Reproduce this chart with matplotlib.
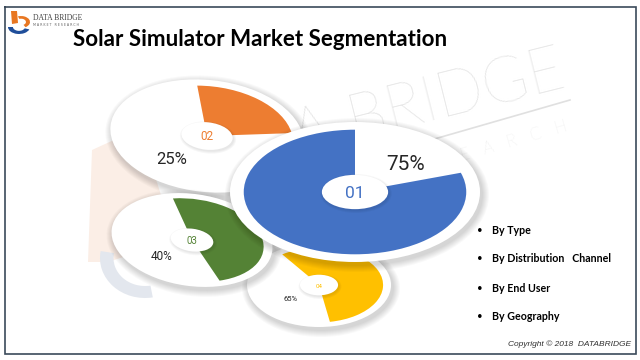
import numpy as np
import matplotlib
matplotlib.use("Agg")
import matplotlib.pyplot as plt
from matplotlib.patches import Circle, Wedge, Polygon
from matplotlib.transforms import Affine2D

# ---- data ----
seg_ids = ["01", "02", "03", "04"]
seg_pct = [75, 25, 40, 65]
arc_share = [0.80, 0.24, 0.48, 0.57]   # coloured sweep as drawn on each disk
seg_colors = ["#4472C4", "#ED7D31", "#548235", "#FFC000"]
legend_items = ["By Type", "By Distribution   Channel", "By End User", "By Geography"]
title = "Solar Simulator Market Segmentation"

# ---- layout of the disks (pixels): cx, cy, a, b, rot, start angle, clockwise ----
disks = {
    "01": dict(cx=355, cy=192, a=125, b=70, rot=0, start=90, cw=False,
               lab=(406, 164), fs_lab=15, fs_id=12.5),
    "02": dict(cx=207, cy=136, a=97, b=56, rot=-6, start=100, cw=True,
               lab=(172, 159), fs_lab=12, fs_id=8.5),
    "03": dict(cx=192, cy=240, a=81, b=46, rot=-8, start=110, cw=True,
               lab=(162, 256), fs_lab=8.5, fs_id=7),
    "04": dict(cx=319, cy=285, a=72, b=42, rot=0, start=125, cw=True,
               lab=(291, 299), fs_lab=5.5, fs_id=4.5),
}
draw_order = ["02", "04", "03", "01"]

fig = plt.figure(figsize=(6.4, 3.6), dpi=100)
ax = fig.add_axes([0, 0, 1, 1])
ax.set_xlim(0, 640)
ax.set_ylim(360, 0)
ax.axis("off")


def tr(cx, cy, a, b, rot=0):
    return Affine2D().scale(a, b).rotate_deg(rot).scale(1, -1).translate(cx, cy) + ax.transData


# ---- faint watermark ----
ax.add_patch(Polygon([(92, 150), (140, 128), (175, 240), (108, 262), (88, 262)],
                     closed=True, fc="#fbeee6", ec="none", zorder=0))
ax.add_patch(Wedge((0, 0), 1, 170, 280, width=0.3, fc="#e3e7ee", ec="none",
                   transform=tr(145, 258, 45, 40), zorder=0))
ax.text(568, 87, "DATA BRIDGE", rotation=14, rotation_mode="anchor", ha="right",
        va="baseline", fontsize=45, color="#e2e2e2", family="Lato",
        fontweight="light", zorder=0)
ax.plot([330, 570], [169, 100], color="#e0e0e0", lw=1.2, zorder=0)
ax.text(568, 131, "M   A   R   K   E   T      R   E   S   E   A   R   C   H", rotation=16,
        rotation_mode="anchor", ha="right", va="baseline", fontsize=12, color="#e2e2e2",
        family="Lato", fontweight="light", zorder=0)

# ---- disks ----
z = 2
for key in draw_order:
    i = seg_ids.index(key)
    d = disks[key]
    cx, cy, a, b, rot = d["cx"], d["cy"], d["a"], d["b"], d["rot"]
    # soft shadow
    for k in range(7):
        ax.add_patch(Circle((0, 0), 1, fc="#000000", ec="none", alpha=0.025,
                            transform=tr(cx + 2, cy + 3, a + 7 - k, b + 7 - k, rot),
                            zorder=z))
    ax.add_patch(Circle((0, 0), 1, fc="white", ec="none",
                        transform=tr(cx, cy, a, b, rot), zorder=z + 0.1))
    sweep = 360 * arc_share[i]
    if d["cw"]:
        t1, t2 = d["start"] - sweep, d["start"]
    else:
        t1, t2 = d["start"], d["start"] + sweep
    ax.add_patch(Wedge((0, 0), 1, t1, t2, fc=seg_colors[i], ec="none",
                       transform=tr(cx, cy, a * 0.89, b * 0.89, rot), zorder=z + 0.2))
    # hub
    for k in range(3):
        ax.add_patch(Circle((0, 0), 1, fc="#000000", ec="none", alpha=0.03,
                            transform=tr(cx + 1, cy + 1.5, a * 0.27 + 2 - k, b * 0.25 + 2 - k, rot),
                            zorder=z + 0.3))
    ax.add_patch(Circle((0, 0), 1, fc="white", ec="none",
                        transform=tr(cx, cy, a * 0.265, b * 0.245, rot), zorder=z + 0.4))
    ax.text(cx, cy + 1, seg_ids[i], ha="center", va="center", fontsize=d["fs_id"],
            color=seg_colors[i], family="Roboto", zorder=z + 0.5)
    ax.text(d["lab"][0], d["lab"][1], f"{seg_pct[i]}%", ha="center", va="center",
            fontsize=d["fs_lab"], color="#262626", family="Roboto", zorder=z + 0.5)
    z += 1

# ---- frame ----
ax.plot([5, 636, 636, 5, 5], [7, 7, 354, 354, 7], color="#3b4a5a", lw=1.2,
        solid_joinstyle="miter", zorder=10)

# ---- logo ----
ax.add_patch(Polygon([(11, 11), (17, 11), (18, 23), (12, 24)], fc="#E87722", ec="none", zorder=11))
ax.add_patch(Wedge((0, 0), 1, -60, 110, width=0.45, fc="#E87722", ec="none",
                   transform=tr(21, 22, 9, 6), zorder=11))
ax.add_patch(Wedge((0, 0), 1, 180, 340, width=0.45, fc="#1F4E9A", ec="none",
                   transform=tr(19, 27, 11, 7), zorder=11))
ax.text(33, 18, "DATA BRIDGE", fontsize=5.5, family="Liberation Serif", color="#404040",
        va="center", ha="left", zorder=11)
ax.text(33, 25, "M A R K E T   R E S E A R C H", fontsize=2.3, color="#606060",
        va="center", ha="left", zorder=11)

# ---- title ----
ax.text(73, 40, title, fontsize=16.1, fontweight="bold", family="Lato", color="black",
        ha="left", va="center", zorder=11)

# ---- bullet list ----
for j, item in enumerate(legend_items):
    y = 230 + 29 * j
    ax.text(480, y, "\u2022", fontsize=7, ha="center", va="center", family="Lato",
            color="black", zorder=11)
    ax.text(492, y, item, fontsize=7.7, fontweight="bold", family="Lato", ha="left",
            va="center", color="black", zorder=11)

ax.text(631, 344, "Copyright \u00a9 2018  DATABRIDGE", fontsize=6, style="italic",
        family="Liberation Sans", color="#303030", ha="right", va="center", zorder=11)

fig.savefig("out.png", dpi=100)
